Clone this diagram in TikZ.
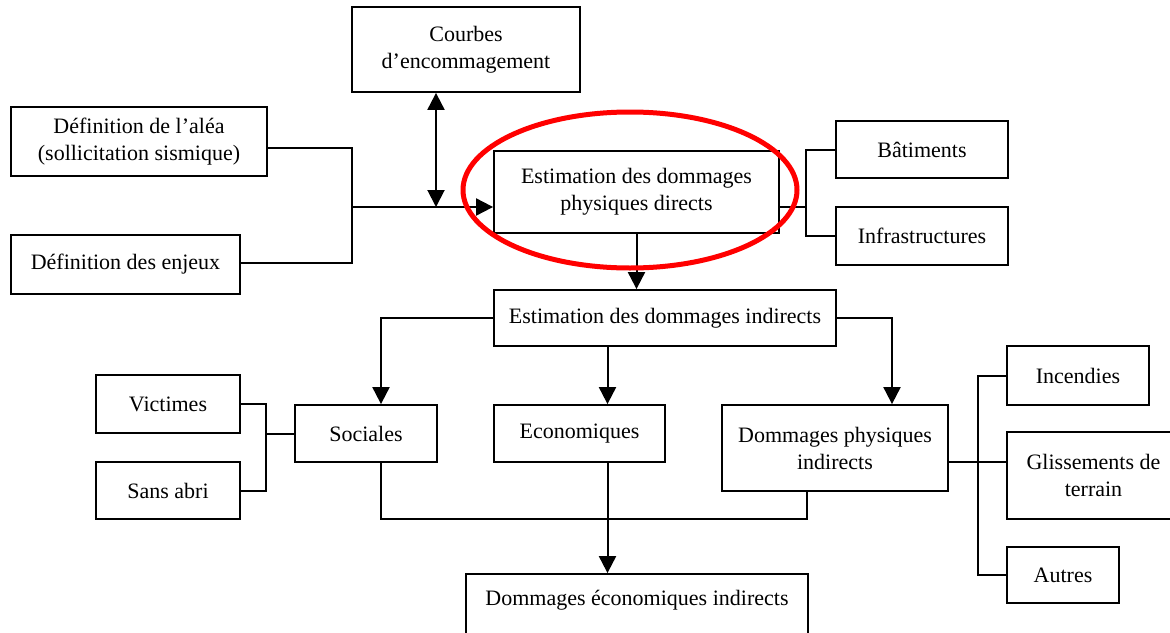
\documentclass[tikz,border=0pt]{standalone}
\usepackage{fontspec}
\setmainfont{Liberation Serif}
\usetikzlibrary{arrows.meta}
\begin{document}
\begin{tikzpicture}[x=1pt,y=-1pt,
  box/.style={draw, line width=1.8pt, rectangle, inner sep=0pt, align=center,
    font=\fontsize{22}{27}\selectfont},
  conn/.style={line width=2pt},
  arr/.style={line width=2pt, -{Triangle[length=17pt,width=17pt]}},
  darr/.style={line width=2pt, {Triangle[length=17pt,width=17pt]}-{Triangle[length=17pt,width=17pt]}}
]
\useasboundingbox (0,0) rectangle (1170,632);
\fill[white] (0,0) rectangle (1170,632);

% boxes
\node[box, minimum width=228pt, minimum height=85pt] (courbes) at (466,49.5) {Courbes\\d’encommagement};
\node[box, minimum width=256pt, minimum height=69pt] (alea) at (139,141.5) {Définition de l’aléa\\(sollicitation sismique)};
\node[box, minimum width=229pt, minimum height=59pt] (enjeux) at (125.5,264.5) {Définition des enjeux};
\node[box, minimum width=285pt, minimum height=82pt] (direct) at (636.5,192) {Estimation des dommages\\physiques directs};
\node[box, minimum width=172pt, minimum height=57pt] (bat) at (922,149.5) {Bâtiments};
\node[box, minimum width=172pt, minimum height=58pt] (infra) at (922,236) {Infrastructures};
\node[box, minimum width=342pt, minimum height=56pt] (indirect) at (665,318) {Estimation des dommages indirects};
\node[box, minimum width=144pt, minimum height=58pt] (victimes) at (168,404) {Victimes};
\node[box, minimum width=144pt, minimum height=57pt] (sansabri) at (168,490.5) {Sans abri};
\node[box, minimum width=142pt, minimum height=57pt] (sociales) at (366,433.5) {Sociales};
\node[box, minimum width=171pt, minimum height=57pt] (econ) at (579.5,433.5) {Economiques};
\node[box, minimum width=226pt, minimum height=86pt] (physind) at (835,448) {Dommages physiques\\indirects};
\node[box, minimum width=342pt, minimum height=66pt, text depth=18pt] (econind) at (637,607) {Dommages économiques indirects};
\node[box, minimum width=142pt, minimum height=59pt] (incendies) at (1078,375.5) {Incendies};
\node[box, minimum width=173pt, minimum height=87pt] (gliss) at (1093.5,475.5) {Glissements de\\terrain};
\node[box, minimum width=112pt, minimum height=56pt] (autres) at (1063,575) {Autres};

% junction coordinates
\coordinate (jA) at (352,148);
\coordinate (jB) at (352,263);
\coordinate (jC) at (352,207);
\coordinate (jD) at (436,207);
\coordinate (jE) at (806,207);
\coordinate (jF) at (266,433.5);
\coordinate (jG) at (978,462);

% left inputs
\draw[conn] (alea.east |- jA) -- (jA) -- (jB) -- (enjeux.east |- jB);
\draw[arr] (jC) -- (direct.west |- jC);
\draw[darr] (courbes.south -| jD) -- (jD);

% direct -> batiments / infrastructures
\draw[conn] (direct.east |- jE) -- (jE);
\draw[conn] (bat.west) -| (jE) |- (infra.west);

% direct -> indirect
\draw[arr] (direct.south) -- (direct.south |- indirect.north);

% indirect -> three branches
\draw[arr] (indirect.west) -| ([xshift=15pt]sociales.north);
\draw[arr] (indirect.south -| 607.5,0) -- (econ.north -| 607.5,0);
\draw[arr] (indirect.east) -| ([xshift=57pt]physind.north);

% sociales / victimes / sans abri
\draw[conn] (victimes.east) -| (jF) |- (sansabri.east);
\draw[conn] (jF) -- (sociales.west);

% bottom collector
\draw[conn] ([xshift=15pt]sociales.south) |- (807,519) -- (physind.south -| 807,0);
\draw[arr] (econ.south -| 607.5,0) -- (econind.north -| 607.5,0);

% physiques indirects -> incendies, glissements, autres
\draw[conn] (physind.east |- jG) -- (gliss.west |- jG);
\draw[conn] (incendies.west) -| (jG) |- (autres.west);

% red ellipse
\draw[red, line width=5pt] (630,190) ellipse [x radius=167, y radius=78];
\end{tikzpicture}
\end{document}
